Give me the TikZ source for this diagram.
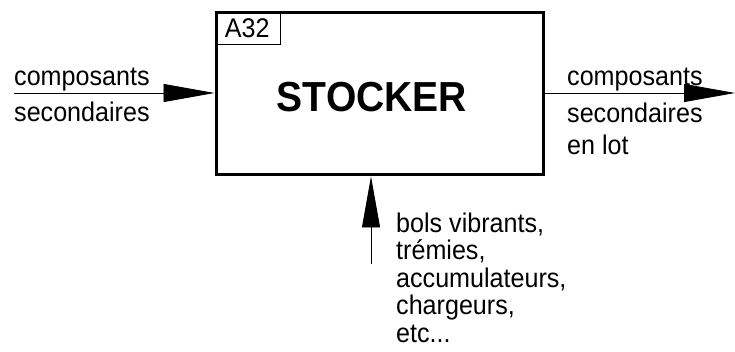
\documentclass[tikz,border=0pt]{standalone}
\usepackage{fontspec}
\setmainfont{Liberation Sans}
\newfontfamily\narrowfont[FakeStretch=0.93]{Liberation Sans}
\usetikzlibrary{arrows.meta}
\begin{document}
\begin{tikzpicture}[x=1pt,y=-1pt,
    flow/.style={-{Triangle[length=51pt,width=18pt]},line width=0.8pt},
    lbl/.style={anchor=base west,inner sep=0pt,font=\narrowfont\fontsize{27}{27.4}\selectfont,align=left}]
        \useasboundingbox (0,0) rectangle (735,352);
        \node[draw,line width=3pt,minimum width=327pt,minimum height=162pt,inner sep=0pt] (box) at (379.5,94) {};
        \node[draw,line width=0.6pt,anchor=north west,minimum width=65pt,minimum height=33pt,inner sep=0pt,font=\narrowfont\fontsize{27}{28}\selectfont] (num) at (box.north west) {A32};
        \node[font=\narrowfont\fontsize{42}{44}\selectfont\bfseries] (task) at (372,97) {STOCKER};
        \coordinate (in) at (14,93);
        \coordinate (out) at (735,93);
        \coordinate (mec) at (371,264);
        \draw[flow] (in) -- (in -| box.west);
        \draw[flow] (out -| box.east) -- (out);
        \draw[flow] (mec) -- (mec |- box.south);
        \node[lbl] (inA) at (14,86) {composants};
        \node[lbl] (inB) at (14,122) {secondaires};
        \node[lbl] (outA) at (567,86) {composants};
        \node[lbl] (outB) at (567,123) {secondaires};
        \node[lbl] (outC) at (567,155) {en lot};
        \node[lbl] (mecA) at (396,342) {bols vibrants,\\trémies,\\accumulateurs,\\chargeurs,\\etc...};
      \end{tikzpicture}
\end{document}
